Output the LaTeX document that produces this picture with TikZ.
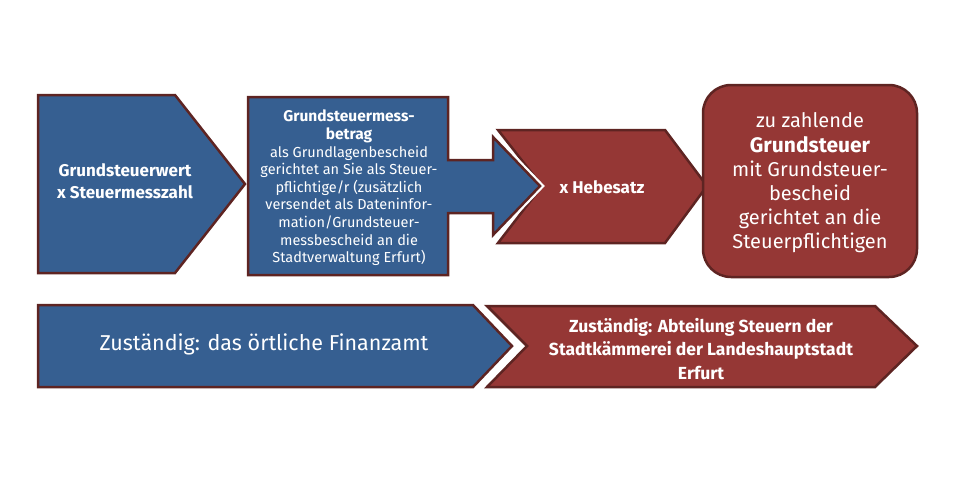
\documentclass[tikz,border=0pt]{standalone}
\usepackage{fontspec}
\setmainfont{Fira Sans}
\definecolor{myblue}{HTML}{365F91}
\definecolor{myred}{HTML}{953735}
\definecolor{myborder}{HTML}{5E2422}
\newcommand{\bhead}[1]{{\bfseries\fontsize{15.5}{17.6}\selectfont #1}}
\tikzset{
  blueshape/.style={fill=myblue, draw=myborder, line width=2.5pt, line join=miter},
  redshape/.style={fill=myred, draw=myborder, line width=2.5pt, line join=miter},
  halo/.style={draw=white, line width=7pt, line join=miter},
  txt/.style={text=white, align=center, inner sep=0pt}
}
\begin{document}
\begin{tikzpicture}[x=1pt,y=-1pt]
\useasboundingbox (0,0) rectangle (960,480);
% top row
\draw[blueshape] (38,95) -- (175,95) -- (245,184) -- (175,273) -- (38,273) -- cycle;
\draw[redshape] (498,130) -- (665,130) -- (707,186) -- (665,243) -- (498,243) -- (542,186) -- cycle;
\draw[halo] (493,137) -- (540,186) -- (493,235);
\draw[blueshape] (248,97) -- (448,97) -- (448,160) -- (493,160) -- (493,137) -- (540,186) -- (493,235) -- (493,213) -- (448,213) -- (448,275) -- (248,275) -- cycle;
\draw[redshape, rounded corners=28pt] (703,85) rectangle (917,277);
% bottom row
\draw[blueshape] (38,305) -- (473,305) -- (512,346) -- (473,387) -- (38,387) -- cycle;
\draw[redshape] (487,306) -- (875,306) -- (917,346) -- (875,387) -- (487,387) -- (527,346) -- cycle;
% texts
\node[txt, font=\bfseries\fontsize{17}{22}\selectfont] (t1) at (125,181) {Grundsteuerwert\\x Steuermesszahl};
\node[txt, font=\fontsize{14.5}{17.6}\selectfont] (t2) at (349,188) {\bhead{Grundsteuermess-}\\\bhead{betrag}\\als Grundlagenbescheid\\gerichtet an Sie als Steuer-\\pflichtige/r (zusätzlich\\versendet als Dateninfor-\\mation/Grundsteuer-\\messbescheid an die\\Stadtverwaltung Erfurt)};
\node[txt, font=\bfseries\fontsize{17}{22}\selectfont] (t3) at (602,187) {x Hebesatz};
\node[txt, font=\fontsize{20}{24.2}\selectfont] (t4) at (810,183) {zu zahlende\\{\bfseries\fontsize{21}{24.2}\selectfont Grundsteuer}\\mit Grundsteuer-\\bescheid\\gerichtet an die\\Steuerpflichtigen};
\node[txt, font=\fontsize{21.5}{26}\selectfont] (t5) at (264,344) {Zuständig: das örtliche Finanzamt};
\node[txt, font=\bfseries\fontsize{17.5}{23.5}\selectfont] (t6) at (701,349) {Zuständig: Abteilung Steuern der\\Stadtkämmerei der Landeshauptstadt\\Erfurt};
\end{tikzpicture}
\end{document}
